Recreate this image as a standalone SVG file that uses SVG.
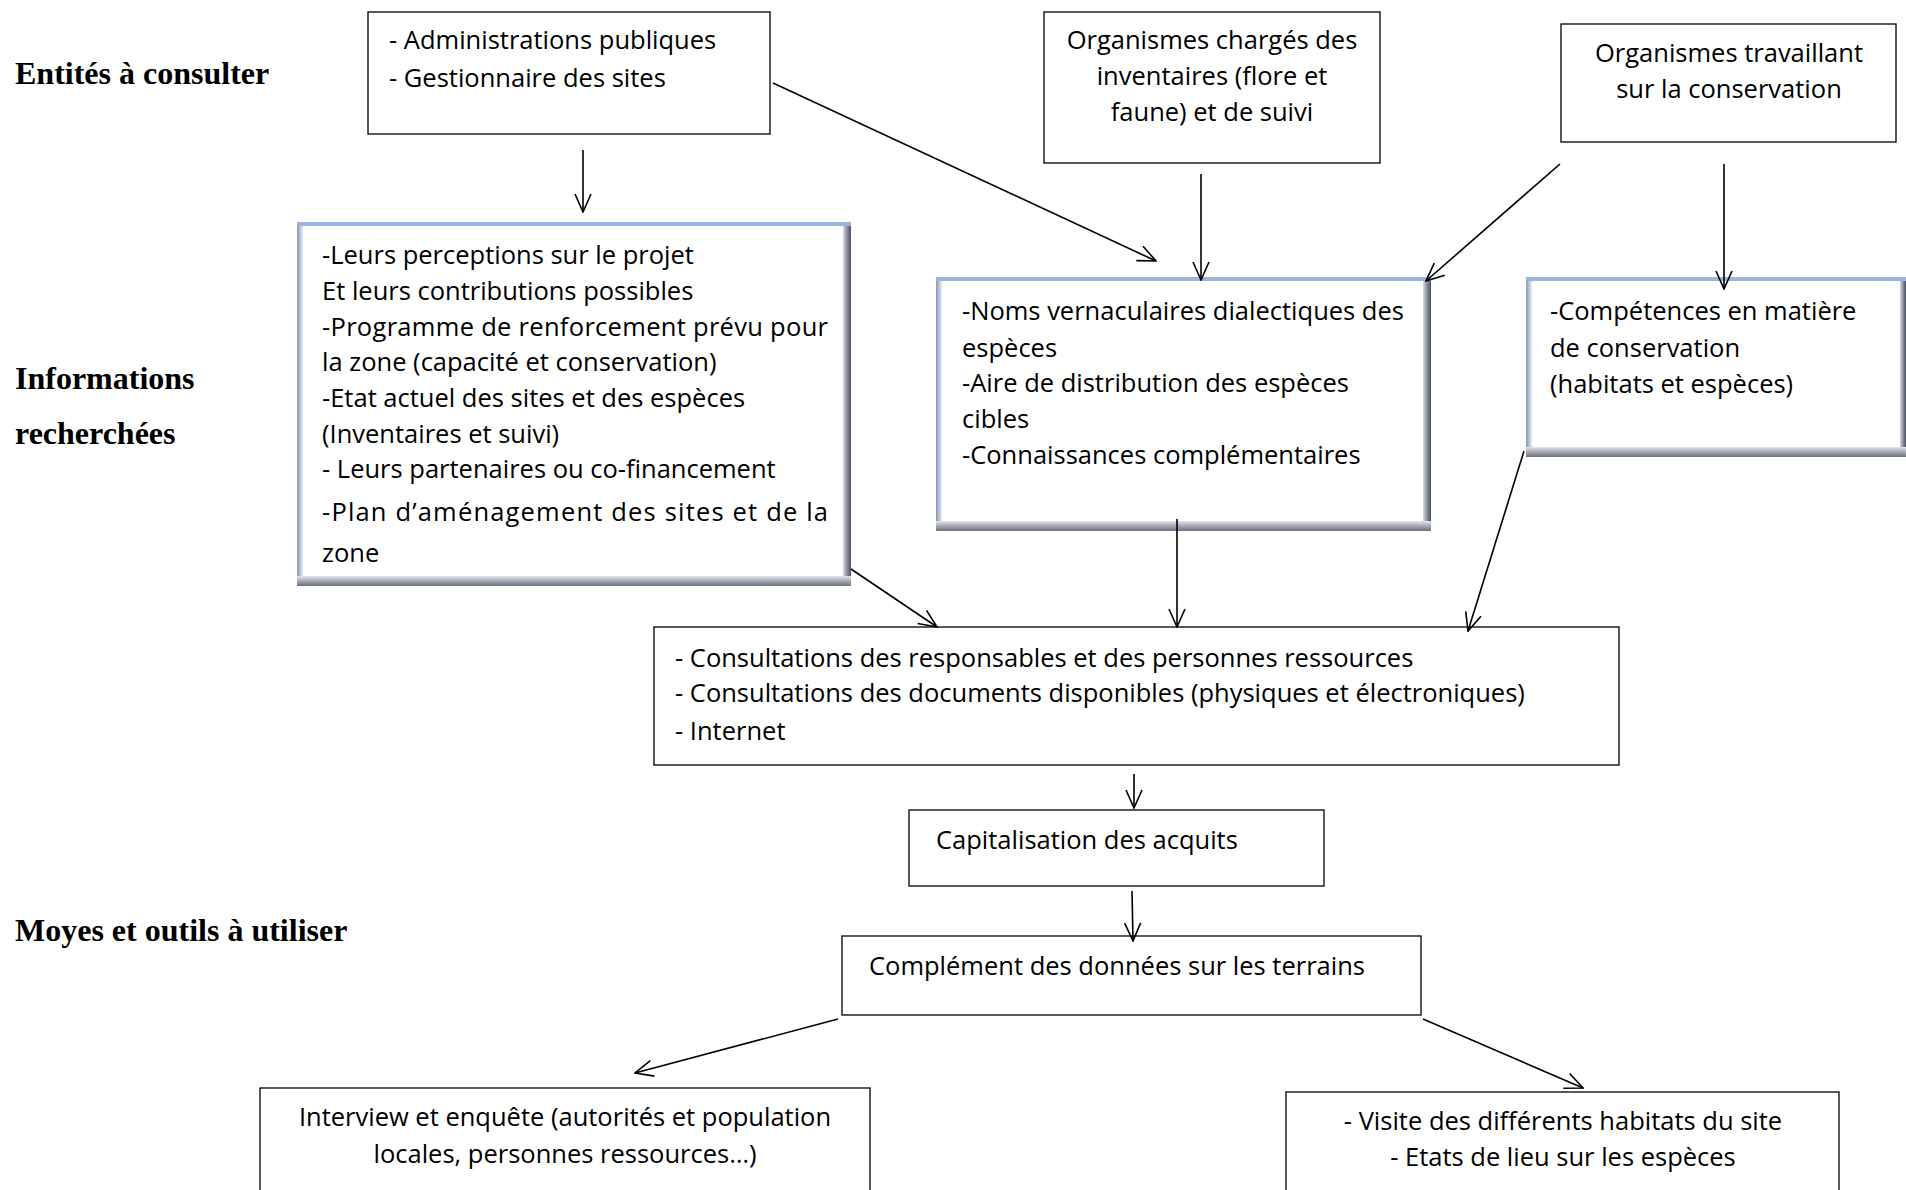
<svg xmlns="http://www.w3.org/2000/svg" width="1906" height="1190" viewBox="0 0 1906 1190">
<defs>
<style>
.box{fill:#fff;stroke:#000;stroke-width:1.3}
.t{font-family:"Open Sans","Liberation Sans",sans-serif;font-size:25.5px;fill:#000}
.c{text-anchor:middle}
.lbl{font-family:"Liberation Serif",serif;font-weight:bold;font-size:32px;fill:#000}
.con{stroke:#000;stroke-width:1.6;fill:none}
</style>
<marker id="ah" viewBox="0 0 20 20" refX="19" refY="10" markerWidth="20" markerHeight="20" markerUnits="userSpaceOnUse" orient="auto">
<path d="M1,2 L19,10 L1,18" fill="none" stroke="#000" stroke-width="1.6"/>
</marker>
<linearGradient id="gr" x1="0" y1="0" x2="1" y2="0">
<stop offset="0" stop-color="#d8dbe2"/><stop offset="0.5" stop-color="#8a909e"/><stop offset="1" stop-color="#4a5060"/>
</linearGradient>
<linearGradient id="gb" x1="0" y1="0" x2="0" y2="1">
<stop offset="0" stop-color="#e4e6ea"/><stop offset="0.5" stop-color="#a4a8b2"/><stop offset="1" stop-color="#6a707e"/>
</linearGradient>
<linearGradient id="gl" x1="0" y1="0" x2="1" y2="0">
<stop offset="0" stop-color="#8796b8"/><stop offset="1" stop-color="#e8ecf4"/>
</linearGradient>
</defs>
<rect width="1906" height="1190" fill="#fff"/>

<g id="labels">
<text class="lbl" x="15" y="84">Entités à consulter</text>
<text class="lbl" x="15" y="389">Informations</text>
<text class="lbl" x="15" y="444">recherchées</text>
<text class="lbl" x="15" y="941">Moyes et outils à utiliser</text>
</g>

<g id="nodeA">
<rect class="box" x="368" y="12" width="402" height="122"/>
<text class="t" x="389" y="49">- Administrations publiques</text>
<text class="t" x="389" y="87">- Gestionnaire des sites</text>
</g>

<g id="nodeB">
<rect class="box" x="1044" y="12" width="336" height="151"/>
<text class="t c" x="1212" y="49">Organismes chargés des</text>
<text class="t c" x="1212" y="85">inventaires (flore et</text>
<text class="t c" x="1212" y="121">faune) et de suivi</text>
</g>

<g id="nodeC">
<rect class="box" x="1561" y="24" width="335" height="118"/>
<text class="t c" x="1729" y="62">Organismes travaillant</text>
<text class="t c" x="1729" y="98">sur la conservation</text>
</g>

<g id="nodeD">
<rect x="297" y="222" width="554" height="364" fill="#fff"/>
<rect x="297" y="222" width="6" height="364" fill="url(#gl)"/>
<rect x="843" y="222" width="8" height="364" fill="url(#gr)"/>
<rect x="297" y="576" width="554" height="10" fill="url(#gb)"/>
<rect x="297" y="222" width="554" height="4" fill="#9ab3df"/>
<text class="t" x="322" y="264">-Leurs perceptions sur le projet</text>
<text class="t" x="322" y="300">Et leurs contributions possibles</text>
<text class="t" x="322" y="336" textLength="506" lengthAdjust="spacing">-Programme de renforcement prévu pour</text>
<text class="t" x="322" y="371">la zone (capacité et conservation)</text>
<text class="t" x="322" y="407">-Etat actuel des sites et des espèces</text>
<text class="t" x="322" y="443">(Inventaires et suivi)</text>
<text class="t" x="322" y="478">- Leurs partenaires ou co-financement</text>
<text class="t" x="322" y="521" textLength="506" lengthAdjust="spacing">-Plan d’aménagement des sites et de la</text>
<text class="t" x="322" y="562">zone</text>
</g>

<g id="nodeE">
<rect x="936" y="277" width="495" height="254" fill="#fff"/>
<rect x="936" y="277" width="6" height="254" fill="url(#gl)"/>
<rect x="1423" y="277" width="8" height="254" fill="url(#gr)"/>
<rect x="936" y="521" width="495" height="10" fill="url(#gb)"/>
<rect x="936" y="277" width="495" height="4" fill="#9ab3df"/>
<text class="t" x="962" y="320">-Noms vernaculaires dialectiques des</text>
<text class="t" x="962" y="357">espèces</text>
<text class="t" x="962" y="392">-Aire de distribution des espèces</text>
<text class="t" x="962" y="428">cibles</text>
<text class="t" x="962" y="464">-Connaissances complémentaires</text>
</g>

<g id="nodeF">
<rect x="1526" y="277" width="380" height="180" fill="#fff"/>
<rect x="1526" y="277" width="6" height="180" fill="url(#gl)"/>
<rect x="1900" y="277" width="6" height="180" fill="url(#gr)"/>
<rect x="1526" y="447" width="380" height="10" fill="url(#gb)"/>
<rect x="1526" y="277" width="380" height="4" fill="#9ab3df"/>
<text class="t" x="1550" y="320">-Compétences en matière</text>
<text class="t" x="1550" y="357">de conservation</text>
<text class="t" x="1550" y="393">(habitats et espèces)</text>
</g>

<g id="nodeG">
<rect class="box" x="654" y="627" width="965" height="138"/>
<text class="t" x="675" y="667">- Consultations des responsables et des personnes ressources</text>
<text class="t" x="675" y="702">- Consultations des documents disponibles (physiques et électroniques)</text>
<text class="t" x="675" y="740">- Internet</text>
</g>

<g id="nodeH">
<rect class="box" x="909" y="810" width="415" height="76"/>
<text class="t" x="936" y="849">Capitalisation des acquits</text>
</g>

<g id="nodeI">
<rect class="box" x="842" y="936" width="579" height="79"/>
<text class="t" x="869" y="975">Complément des données sur les terrains</text>
</g>

<g id="nodeJ">
<rect class="box" x="260" y="1088" width="610" height="120"/>
<text class="t c" x="565" y="1126">Interview et enquête (autorités et population</text>
<text class="t c" x="565" y="1163">locales, personnes ressources…)</text>
</g>

<g id="nodeK">
<rect class="box" x="1286" y="1092" width="553" height="120"/>
<text class="t c" x="1563" y="1130">- Visite des différents habitats du site</text>
<text class="t c" x="1563" y="1166">- Etats de lieu sur les espèces</text>
</g>

<g id="connectors" class="con">
<line x1="583" y1="150" x2="583" y2="212" marker-end="url(#ah)"/>
<line x1="773" y1="83" x2="1156" y2="261" marker-end="url(#ah)"/>
<line x1="1201" y1="174" x2="1201" y2="280" marker-end="url(#ah)"/>
<line x1="1560" y1="164" x2="1426" y2="281" marker-end="url(#ah)"/>
<line x1="1724" y1="164" x2="1724" y2="289" marker-end="url(#ah)"/>
<line x1="851" y1="569" x2="937" y2="627" marker-end="url(#ah)"/>
<line x1="1177" y1="519" x2="1177" y2="627" marker-end="url(#ah)"/>
<line x1="1524" y1="451" x2="1468" y2="631" marker-end="url(#ah)"/>
<line x1="1134" y1="774" x2="1134" y2="808" marker-end="url(#ah)"/>
<line x1="1132" y1="891" x2="1133" y2="941" marker-end="url(#ah)"/>
<line x1="838" y1="1019" x2="635" y2="1073" marker-end="url(#ah)"/>
<line x1="1423" y1="1019" x2="1583" y2="1088" marker-end="url(#ah)"/>
</g>
</svg>
